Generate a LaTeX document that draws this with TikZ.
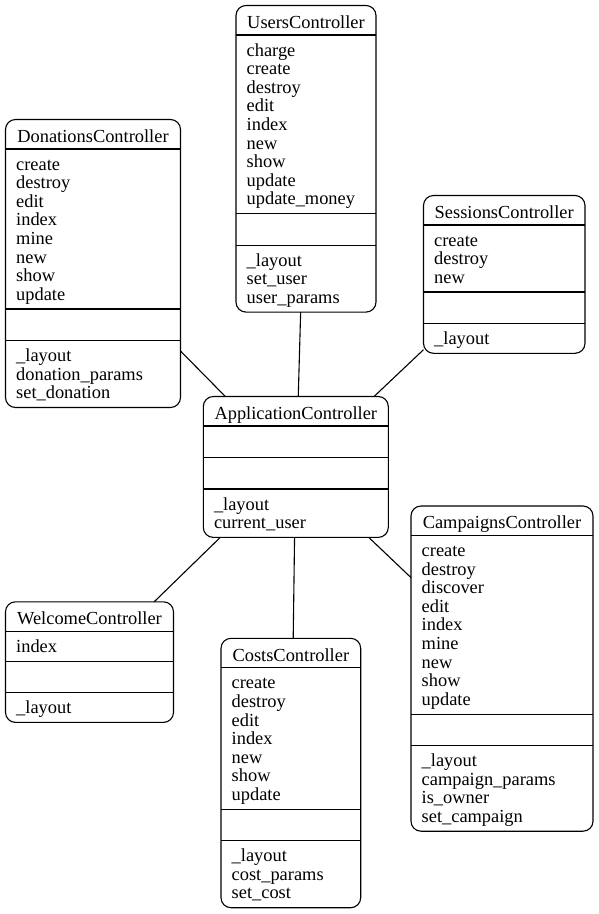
\documentclass[tikz,border=0pt]{standalone}
\usepackage{fontspec}
\setmainfont{Liberation Serif}
\tikzset{
  umlframe/.style={draw, line width=1.1pt, rounded corners=10pt, inner sep=0pt, outer sep=0pt, fill=none},
  divider/.style={line width=1.1pt},
  txt/.style={font=\fontsize{18.4pt}{18.6pt}\selectfont, inner sep=0pt, outer sep=0pt},
  link/.style={line width=1.1pt},
}
% #1 name, #2 left, #3 top, #4 width, #5 header, #6 n methods, #7 methods, #8 n attrs, #9 attrs
\newcommand\umlbox[9]{%
  \pgfmathsetmacro\umlmh{ifthenelse(#6>0,18.6*#6+11.2,31.5)}%
  \pgfmathsetmacro\umlah{ifthenelse(#8>0,18.6*#8+11.2,31.5)}%
  \pgfmathsetmacro\umlya{#3+29.5}%
  \pgfmathsetmacro\umlyb{\umlya+\umlmh}%
  \pgfmathsetmacro\umlyc{\umlyb+31.5}%
  \pgfmathsetmacro\umlyd{\umlyc+\umlah}%
  \pgfmathsetmacro\umlhh{\umlyd-#3}%
  \node[umlframe, minimum width=#4pt, minimum height=\umlhh pt, anchor=north west] (#1) at (#2,#3) {};
  \draw[divider] (#2,\umlya) -- ++(#4,0);
  \draw[divider] (#2,\umlyb) -- ++(#4,0);
  \draw[divider] (#2,\umlyc) -- ++(#4,0);
  \node[txt, anchor=base] (#1-h) at ({#2+#4/2},{#3+22.8}) {#5};
  \ifnum#6>0
    \foreach \t [count=\i] in {#7} {\node[txt, anchor=base west] (#1-m\i) at ({#2+10.7},{\umlya+21+18.6*(\i-1)}) {\t};}
  \fi
  \ifnum#8>0
    \foreach \t [count=\i] in {#9} {\node[txt, anchor=base west] (#1-a\i) at ({#2+10.7},{\umlyc+21+18.6*(\i-1)}) {\t};}
  \fi
}
\begin{document}
\begin{tikzpicture}[x=1pt,y=-1pt]
\fill[white] (0,0) rectangle (598,914);
\useasboundingbox (0,0) rectangle (598,914);

\umlbox{don}{5.5}{119.5}{175}{DonationsController}{8}{create,destroy,edit,index,mine,new,show,update}{3}{\_layout,donation\_params,set\_donation}
\umlbox{users}{236}{5.5}{140}{UsersController}{9}{charge,create,destroy,edit,index,new,show,update,update\_money}{3}{\_layout,set\_user,user\_params}
\umlbox{sess}{423.5}{195.5}{161.5}{SessionsController}{3}{create,destroy,new}{1}{\_layout}
\umlbox{app}{203.3}{396.5}{185}{ApplicationController}{0}{}{2}{\_layout,current\_user}
\umlbox{wel}{5.5}{601.8}{168}{WelcomeController}{1}{index}{1}{\_layout}
\umlbox{costs}{221}{638.3}{139.7}{CostsController}{7}{create,destroy,edit,index,new,show,update}{3}{\_layout,cost\_params,set\_cost}
\umlbox{camp}{411}{506}{182}{CampaignsController}{9}{create,destroy,discover,edit,index,mine,new,show,update}{4}{\_layout,campaign\_params,is\_owner,set\_campaign}

\draw[link] (don.-45.55) -- (app.135.14);
\draw[link] (users.-92.5) -- (app.88.45);
\draw[link] (sess.223) -- (app.42.27);
\draw[link] (app.-137.1) -- (wel.43.4);
\draw[link] (app.-91.2) -- (costs.89.1);
\draw[link] (app.-44.2) -- (camp.135.8);
\end{tikzpicture}
\end{document}
